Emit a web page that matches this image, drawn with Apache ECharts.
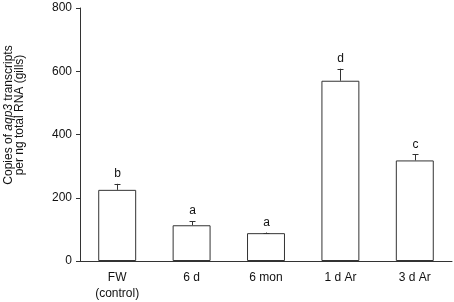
<!DOCTYPE html>
<html>
<head>
<meta charset="utf-8">
<script src="https://cdn.jsdelivr.net/npm/echarts@6/dist/echarts.min.js"></script>
<style>
  html, body { margin: 0; padding: 0; background: #fff; }
  #chart { width: 454px; height: 302px; }
</style>
</head>
<body>
<div id="chart"></div>
<script>
// groups on the x axis
const groups = ['FW\n(control)', '6 d', '6 mon', '1 d Ar', '3 d Ar'];
// mean copies of aqp3 per ng RNA
const means = [225, 113, 88, 570, 318];
// upper error (SEM)
const errs = [19, 13, 2, 38, 19];
// significance letters
const letters = ['b', 'a', 'a', 'd', 'c'];
const yTicks = [0, 200, 400, 600, 800];

const ink = '#333';
const font = 'Liberation Sans, Arial, sans-serif';

const chart = echarts.init(document.getElementById('chart'));
chart.setOption({
  animation: false,
  grid: { left: 80, right: 2, top: 8, bottom: 40 },
  xAxis: {
    type: 'category',
    data: groups,
    axisLine: { lineStyle: { color: ink, width: 1 } },
    axisTick: { show: false },
    axisLabel: { color: '#111', fontFamily: font, fontSize: 12, lineHeight: 16, margin: 9 }
  },
  yAxis: {
    type: 'value',
    min: yTicks[0],
    max: yTicks[yTicks.length - 1],
    interval: 200,
    axisLine: { show: true, lineStyle: { color: ink, width: 1 } },
    axisTick: { show: true, length: 4, lineStyle: { color: ink } },
    splitLine: { show: false },
    axisLabel: { color: '#111', fontFamily: font, fontSize: 12, margin: 8 }
  },
  graphic: [{
    type: 'text',
    x: 14,
    y: 115,
    rotation: Math.PI / 2,
    style: {
      text: '{n|Copies of }{i|aqp3}{n| transcripts}\n{n|per ng total RNA (gills)}',
      align: 'center',
      verticalAlign: 'middle',
      rich: {
        n: { fontFamily: font, fontSize: 12, fill: '#111', lineHeight: 11 },
        i: { fontFamily: font, fontSize: 12, fontStyle: 'italic', fill: '#111', lineHeight: 11 }
      }
    }
  }],
  series: [{
    type: 'bar',
    data: means,
    barWidth: '51%',
    itemStyle: { color: '#fff', borderColor: ink, borderWidth: 1 },
    z: 2
  }, {
    type: 'custom',
    data: means.map((m, i) => [i, m, m + errs[i], letters[i]]),
    z: 3,
    renderItem: (params, api) => {
      const base = api.coord([api.value(0), api.value(1)]);
      const top = api.coord([api.value(0), api.value(2)]);
      const x = Math.round(base[0]) + 0.5;
      return {
        type: 'group',
        children: [{
          type: 'line',
          shape: { x1: x, y1: base[1], x2: x, y2: top[1] },
          style: { stroke: ink, lineWidth: 1 }
        }, {
          type: 'line',
          shape: { x1: x - 3, y1: Math.round(top[1]) + 0.5, x2: x + 3, y2: Math.round(top[1]) + 0.5 },
          style: { stroke: ink, lineWidth: 1 }
        }, {
          type: 'text',
          x: x,
          y: top[1] - 4,
          style: {
            text: api.value(3),
            align: 'center',
            verticalAlign: 'bottom',
            fontFamily: font,
            fontSize: 12,
            fill: '#111'
          }
        }]
      };
    }
  }]
});
</script>
</body>
</html>
